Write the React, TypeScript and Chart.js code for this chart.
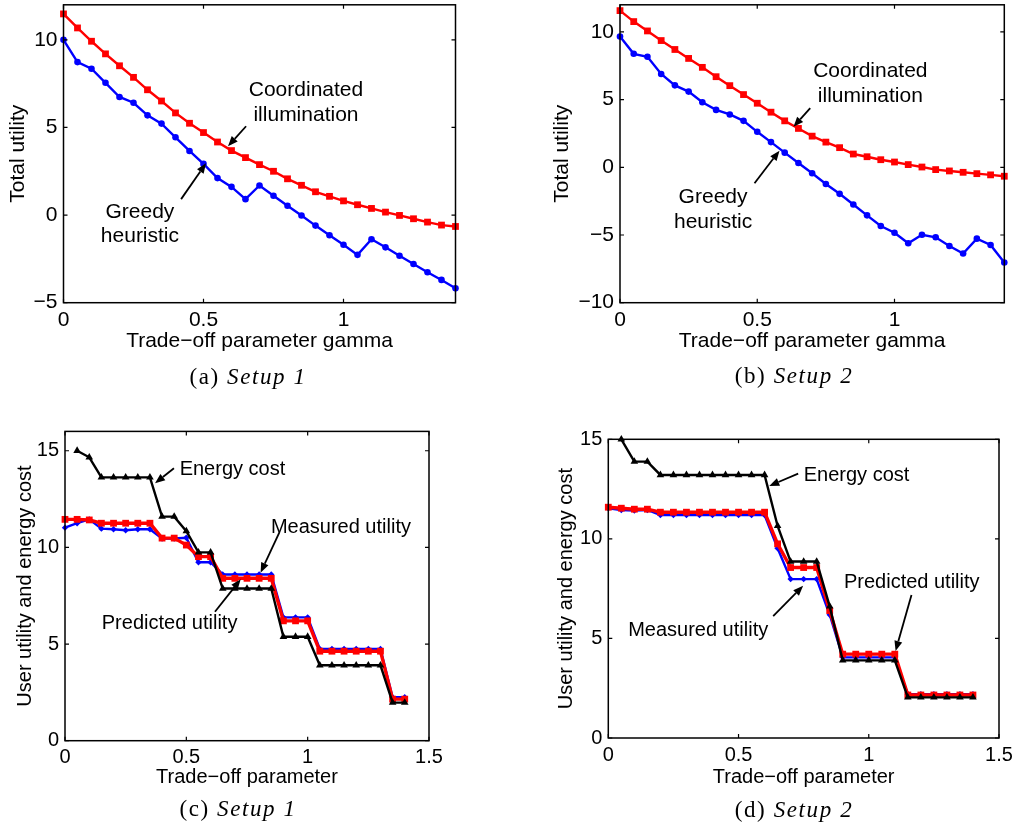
import React, { useEffect, useRef } from 'react';
import { Chart, registerables } from 'chart.js';

Chart.register(...registerables);

// ---------- data ----------
const GAMMA = [0, 0.05, 0.1, 0.15, 0.2, 0.25, 0.3, 0.35, 0.4, 0.45, 0.5, 0.55, 0.6, 0.65, 0.7, 0.75, 0.8, 0.85, 0.9, 0.95, 1.0, 1.05, 1.1, 1.15, 1.2, 1.25, 1.3, 1.35, 1.4];

const A_COORDINATED = [11.48, 10.68, 9.92, 9.2, 8.52, 7.86, 7.15, 6.51, 5.83, 5.24, 4.71, 4.17, 3.68, 3.28, 2.88, 2.5, 2.07, 1.7, 1.33, 1.07, 0.81, 0.59, 0.38, 0.17, -0.02, -0.21, -0.4, -0.57, -0.65];
const A_GREEDY = [10.0, 8.73, 8.35, 7.55, 6.74, 6.41, 5.69, 5.22, 4.44, 3.66, 2.92, 2.11, 1.61, 0.91, 1.69, 1.1, 0.53, -0.02, -0.6, -1.15, -1.69, -2.27, -1.38, -1.84, -2.32, -2.79, -3.26, -3.7, -4.18];

const B_COORDINATED = [11.57, 10.76, 10.07, 9.36, 8.7, 8.04, 7.38, 6.69, 6.03, 5.37, 4.73, 4.07, 3.43, 2.87, 2.3, 1.86, 1.45, 0.98, 0.78, 0.56, 0.39, 0.2, 0.02, -0.17, -0.27, -0.37, -0.47, -0.56, -0.66];
const B_GREEDY = [9.66, 8.38, 8.16, 6.89, 6.05, 5.59, 4.8, 4.24, 3.9, 3.43, 2.62, 1.86, 1.08, 0.32, -0.44, -1.23, -1.96, -2.75, -3.55, -4.34, -4.83, -5.61, -4.98, -5.17, -5.81, -6.37, -5.27, -5.74, -7.03];

const C_ENERGY = [null, 15.0, 14.66, 13.62, 13.62, 13.62, 13.62, 13.62, 11.59, 11.59, 10.84, 9.74, 9.74, 7.87, 7.87, 7.87, 7.87, 7.87, 5.38, 5.38, 5.38, 3.9, 3.9, 3.9, 3.9, 3.9, 3.9, 1.97, 1.97];
const C_PREDICTED = [11.45, 11.45, 11.42, 11.25, 11.25, 11.25, 11.25, 11.25, 10.48, 10.48, 10.12, 9.52, 9.52, 8.4, 8.4, 8.4, 8.4, 8.4, 6.2, 6.2, 6.2, 4.63, 4.63, 4.63, 4.63, 4.63, 4.63, 2.15, 2.15];
const C_MEASURED = [11.02, 11.25, 11.45, 10.97, 10.94, 10.89, 10.94, 10.94, 10.46, 10.46, 10.5, 9.23, 9.23, 8.6, 8.6, 8.6, 8.6, 8.6, 6.38, 6.38, 6.38, 4.75, 4.75, 4.75, 4.75, 4.75, 4.75, 2.25, 2.25];

const D_ENERGY = [null, 15.0, 13.88, 13.88, 13.21, 13.21, 13.21, 13.21, 13.21, 13.21, 13.21, 13.21, 13.21, 10.65, 8.86, 8.86, 8.86, 6.61, 3.9, 3.9, 3.9, 3.9, 3.9, 2.04, 2.04, 2.04, 2.04, 2.04, 2.04];
const D_PREDICTED = [11.59, 11.54, 11.49, 11.49, 11.34, 11.34, 11.34, 11.34, 11.34, 11.34, 11.34, 11.34, 11.34, 9.75, 8.56, 8.56, 8.56, 6.4, 4.21, 4.21, 4.21, 4.21, 4.21, 2.16, 2.16, 2.16, 2.16, 2.16, 2.16];
const D_MEASURED = [11.54, 11.45, 11.42, 11.45, 11.2, 11.2, 11.2, 11.2, 11.2, 11.2, 11.2, 11.2, 11.2, 9.53, 7.98, 7.98, 7.98, 6.19, 4.05, 4.05, 4.05, 4.05, 4.05, 2.2, 2.2, 2.2, 2.2, 2.2, 2.2];

const X_TICKS_TOP = [0, 0.5, 1];
const X_TICKS_BOTTOM = [0, 0.5, 1, 1.5];
const Y_TICKS_A = [-5, 0, 5, 10];
const Y_TICKS_B = [-10, -5, 0, 5, 10];
const Y_TICKS_CD = [0, 5, 10, 15];

const X_TITLE_TOP = 'Trade\u2212off parameter gamma';
const X_TITLE_BOTTOM = 'Trade\u2212off parameter';
const Y_TITLE_TOP = 'Total utility';
const Y_TITLE_BOTTOM = 'User utility and energy cost';

const CAPTIONS = [
  { tag: '(a)', name: 'Setup 1' },
  { tag: '(b)', name: 'Setup 2' },
  { tag: '(c)', name: 'Setup 1' },
  { tag: '(d)', name: 'Setup 2' },
];

// annotations in data coordinates
const NOTES_A = [
  { x: 0.866, y: 6.43, lines: ['Coordinated', 'illumination'] },
  { x: 0.273, y: -0.52, lines: ['Greedy', 'heuristic'] },
];
const ARROWS_A = [
  { from: [0.652, 5.07], to: [0.5875, 3.93] },
  { from: [0.42, 0.91], to: [0.509, 2.96] },
];
const NOTES_B = [
  { x: 0.912, y: 6.17, lines: ['Coordinated', 'illumination'] },
  { x: 0.339, y: -3.11, lines: ['Greedy', 'heuristic'] },
];
const ARROWS_B = [
  { from: [0.693, 4.37], to: [0.632, 2.99] },
  { from: [0.49, -1.18], to: [0.581, 1.23] },
];
const NOTES_C = [
  { x: 0.69, y: 14.04, lines: ['Energy cost'] },
  { x: 1.137, y: 11.04, lines: ['Measured utility'] },
  { x: 0.431, y: 6.04, lines: ['Predicted utility'] },
];
const ARROWS_C = [
  { from: [0.449, 14.09], to: [0.371, 13.32] },
  { from: [0.883, 10.76], to: [0.806, 8.69] },
  { from: [0.618, 6.67], to: [0.724, 8.35] },
];
const NOTES_D = [
  { x: 0.953, y: 13.2, lines: ['Energy cost'] },
  { x: 1.165, y: 7.81, lines: ['Predicted utility'] },
  { x: 0.345, y: 5.38, lines: ['Measured utility'] },
];
const ARROWS_D = [
  { from: [0.729, 13.28], to: [0.618, 12.66] },
  { from: [1.164, 7.18], to: [1.103, 4.37] },
  { from: [0.633, 6.12], to: [0.748, 7.64] },
];

// ---------- styling / layout ----------
const W = 1016;
const H = 825;
const SANS = '"Liberation Sans", Arial, Helvetica, sans-serif';
const RED = '#ff0000';
const BLUE = '#0000ff';
const BLACK = '#000000';

const pts = (ys: (number | null)[]) => GAMMA.map((x, i) => ({ x, y: ys[i] }));

const fmt = (v: number) => String(v).replace('-', '\u2212');

function topSeries(coord: number[], greedy: number[]) {
  return [
    {
      data: pts(coord), borderColor: RED, backgroundColor: RED, borderWidth: 2.4,
      pointStyle: 'rect', pointRadius: 4.8, pointBorderWidth: 0, clip: false,
    },
    {
      data: pts(greedy), borderColor: BLUE, backgroundColor: BLUE, borderWidth: 2.4,
      pointStyle: 'circle', pointRadius: 3.3, pointBorderWidth: 0, clip: false,
    },
  ];
}
function bottomSeries(energy: (number | null)[], pred: number[], meas: number[]) {
  return [
    {
      data: pts(energy), borderColor: BLACK, backgroundColor: BLACK, borderWidth: 2.4,
      pointStyle: 'triangle', pointRadius: 4.4, pointBorderWidth: 0, clip: false,
    },
    {
      data: pts(pred), borderColor: RED, backgroundColor: RED, borderWidth: 3.4,
      pointStyle: 'rect', pointRadius: 4.8, pointBorderWidth: 0, clip: false,
    },
    {
      data: pts(meas), borderColor: BLUE, backgroundColor: BLUE, borderWidth: 2.4,
      pointStyle: 'rectRot', pointRadius: 3.2, pointBorderWidth: 0, clip: false,
    },
  ];
}

const PANELS = [
  {
    key: 'a', fontSize: 21, pad: { left: 5.4, top: 3.7, right: 560.5, bottom: 470.7 }, yW: 58.1, xH: 51.6,
    xMax: 1.4, yMin: -5, yMax: 12, xTicks: X_TICKS_TOP, yTicks: Y_TICKS_A,
    xTitle: X_TITLE_TOP, yTitle: Y_TITLE_TOP, datasets: topSeries(A_COORDINATED, A_GREEDY),
    notes: NOTES_A, arrows: ARROWS_A,
  },
  {
    key: 'b', fontSize: 21, pad: { left: 549.4, top: 4, right: 11.7, bottom: 470.7 }, yW: 70.6, xH: 51.6,
    xMax: 1.4, yMin: -10, yMax: 12, xTicks: X_TICKS_TOP, yTicks: Y_TICKS_B,
    xTitle: X_TITLE_TOP, yTitle: Y_TITLE_TOP, datasets: topSeries(B_COORDINATED, B_GREEDY),
    notes: NOTES_B, arrows: ARROWS_B,
  },
  {
    key: 'c', fontSize: 20, pad: { left: 13, top: 431.4, right: 587, bottom: 35.7 }, yW: 52, xH: 48.6,
    xMax: 1.5, yMin: 0, yMax: 16, xTicks: X_TICKS_BOTTOM, yTicks: Y_TICKS_CD,
    xTitle: X_TITLE_BOTTOM, yTitle: Y_TITLE_BOTTOM, datasets: bottomSeries(C_ENERGY, C_PREDICTED, C_MEASURED),
    notes: NOTES_C, arrows: ARROWS_C,
  },
  {
    key: 'd', fontSize: 20, pad: { left: 554, top: 439.3, right: 17, bottom: 35.7 }, yW: 54.3, xH: 51.3,
    xMax: 1.5, yMin: 0, yMax: 15, xTicks: X_TICKS_BOTTOM, yTicks: Y_TICKS_CD,
    xTitle: X_TITLE_BOTTOM, yTitle: Y_TITLE_BOTTOM, datasets: bottomSeries(D_ENERGY, D_PREDICTED, D_MEASURED),
    notes: NOTES_D, arrows: ARROWS_D,
  },
];

const CAPTION_POS = [
  { cx: 248, cy: 376.7 },
  { cx: 794, cy: 375.5 },
  { cx: 238, cy: 808.5 },
  { cx: 794, cy: 810 },
];

function makeFramePlugin(cfg: any) {
  return {
    id: 'frame' + cfg.key,
    afterDraw(chart: any) {
      const { ctx, chartArea: a, scales } = chart;
      const xs = scales.x;
      const ys = scales.y;
      ctx.save();
      ctx.strokeStyle = '#000';
      ctx.lineWidth = 1.5;
      ctx.strokeRect(a.left, a.top, a.right - a.left, a.bottom - a.top);
      const tl = 4;
      ctx.lineWidth = 1.2;
      ctx.beginPath();
      cfg.xTicks.forEach((v: number) => {
        const px = xs.getPixelForValue(v);
        ctx.moveTo(px, a.bottom); ctx.lineTo(px, a.bottom - tl);
        ctx.moveTo(px, a.top); ctx.lineTo(px, a.top + tl);
      });
      cfg.yTicks.forEach((v: number) => {
        const py = ys.getPixelForValue(v);
        ctx.moveTo(a.left, py); ctx.lineTo(a.left + tl, py);
        ctx.moveTo(a.right, py); ctx.lineTo(a.right - tl, py);
      });
      ctx.stroke();

      // annotations
      ctx.fillStyle = '#000';
      ctx.font = `${cfg.fontSize}px ${SANS}`;
      ctx.textAlign = 'center';
      ctx.textBaseline = 'middle';
      const lh = cfg.fontSize * 1.18;
      cfg.notes.forEach((n: any) => {
        const cx = xs.getPixelForValue(n.x);
        const cy = ys.getPixelForValue(n.y);
        const y0 = cy - ((n.lines.length - 1) * lh) / 2;
        n.lines.forEach((t: string, i: number) => ctx.fillText(t, cx, y0 + i * lh));
      });
      cfg.arrows.forEach((ar: any) => {
        const x1 = xs.getPixelForValue(ar.from[0]);
        const y1 = ys.getPixelForValue(ar.from[1]);
        const x2 = xs.getPixelForValue(ar.to[0]);
        const y2 = ys.getPixelForValue(ar.to[1]);
        const ang = Math.atan2(y2 - y1, x2 - x1);
        const hl = 10;
        const hw = 4;
        const bx = x2 - hl * Math.cos(ang);
        const by = y2 - hl * Math.sin(ang);
        ctx.lineWidth = 1.8;
        ctx.beginPath();
        ctx.moveTo(x1, y1);
        ctx.lineTo(bx, by);
        ctx.stroke();
        ctx.beginPath();
        ctx.moveTo(x2, y2);
        ctx.lineTo(bx + hw * Math.sin(ang), by - hw * Math.cos(ang));
        ctx.lineTo(bx - hw * Math.sin(ang), by + hw * Math.cos(ang));
        ctx.closePath();
        ctx.fill();
      });
      ctx.restore();
    },
  };
}

function PanelChart({ cfg }: { cfg: any }) {
  const ref = useRef<HTMLCanvasElement | null>(null);
  useEffect(() => {
    if (!ref.current) return;
    const font = { family: SANS, size: cfg.fontSize };
    const chart = new Chart(ref.current, {
      type: 'line',
      data: { datasets: cfg.datasets },
      options: {
        responsive: false,
        animation: false,
        events: [],
        layout: { padding: cfg.pad },
        plugins: { legend: { display: false }, tooltip: { enabled: false } },
        elements: { line: { tension: 0 } },
        scales: {
          x: {
            type: 'linear',
            min: 0,
            max: cfg.xMax,
            afterBuildTicks: (s: any) => { s.ticks = cfg.xTicks.map((v: number) => ({ value: v })); },
            afterFit: (s: any) => { s.height = cfg.xH; s.paddingLeft = 0; s.paddingRight = 0; },
            grid: { display: false, drawTicks: false },
            border: { display: false },
            ticks: { padding: 5, color: '#000', font, autoSkip: false, maxRotation: 0, callback: (v: any) => fmt(v) },
            title: { display: true, text: cfg.xTitle, color: '#000', font, padding: 0 },
          },
          y: {
            type: 'linear',
            min: cfg.yMin,
            max: cfg.yMax,
            afterBuildTicks: (s: any) => { s.ticks = cfg.yTicks.map((v: number) => ({ value: v })); },
            afterFit: (s: any) => { s.width = cfg.yW; s.paddingTop = 0; s.paddingBottom = 0; },
            grid: { display: false, drawTicks: false },
            border: { display: false },
            ticks: { padding: 6, color: '#000', font, autoSkip: false, callback: (v: any) => fmt(v) },
            title: { display: true, text: cfg.yTitle, color: '#000', font, padding: 0 },
          },
        },
      } as any,
      plugins: [makeFramePlugin(cfg)],
    } as any);
    return () => chart.destroy();
  }, []);
  return (
    <canvas
      ref={ref}
      width={W}
      height={H}
      style={{ position: 'absolute', left: 0, top: 0, width: W, height: H }}
    />
  );
}

export default function App() {
  return (
    <div style={{ position: 'absolute', left: 0, top: 0, width: W, height: H, background: '#fff', overflow: 'hidden' }}>
      {PANELS.map((p) => (
        <PanelChart key={p.key} cfg={p} />
      ))}
      {CAPTIONS.map((c, i) => (
        <div
          key={c.tag}
          style={{
            position: 'absolute',
            left: CAPTION_POS[i].cx - 120,
            top: CAPTION_POS[i].cy - 14,
            width: 240,
            height: 28,
            lineHeight: '28px',
            textAlign: 'center',
            fontFamily: '"Liberation Serif", "Times New Roman", serif',
            fontSize: 23,
            letterSpacing: '1.6px',
            color: '#000',
            whiteSpace: 'nowrap',
          }}
        >
          {c.tag}{' '}
          <i>{c.name}</i>
        </div>
      ))}
    </div>
  );
}
